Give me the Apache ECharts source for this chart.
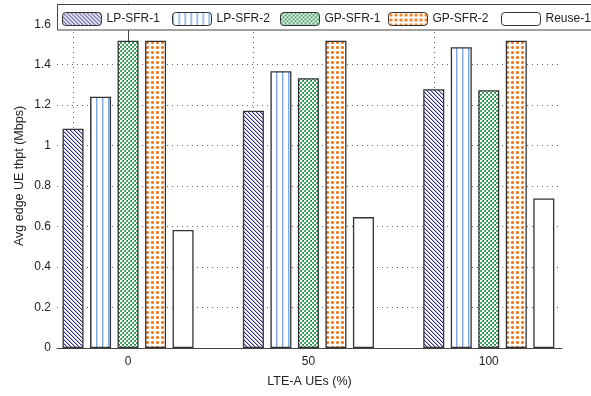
<!DOCTYPE html>
<html>
<head>
<meta charset="utf-8">
<script src="https://cdn.jsdelivr.net/npm/echarts@6/dist/echarts.min.js"></script>
<style>
html,body{margin:0;padding:0;background:#fff;}
#chart{width:591px;height:396px;}
</style>
</head>
<body>
<div id="chart"></div>
<script>
// ---- data ----
const categories = [0, 50, 100];
const seriesNames = ['LP-SFR-1', 'LP-SFR-2', 'GP-SFR-1', 'GP-SFR-2', 'Reuse-1'];
const lpSfr1 = [1.084, 1.173, 1.279];
const lpSfr2 = [1.242, 1.368, 1.486];
const gpSfr1 = [1.519, 1.333, 1.274];
const gpSfr2 = [1.519, 1.519, 1.519];
const reuse1 = [0.583, 0.647, 0.739];
const xTickValues = [0, 50, 100];

// ---- patterns ----
function tile(w, h, fn) {
  const c = document.createElement('canvas');
  c.width = w; c.height = h;
  const ctx = c.getContext('2d');
  ctx.fillStyle = '#ffffff';
  ctx.fillRect(0, 0, w, h);
  for (let y = 0; y < h; y++) {
    for (let x = 0; x < w; x++) {
      const col = fn(x, y);
      if (col) { ctx.fillStyle = col; ctx.fillRect(x, y, 1, 1); }
    }
  }
  return { image: c, repeat: 'repeat' };
}
const patDiag = tile(4, 4, (x, y) => {
  if (x === y) return '#2b2b85';
  if (x === (y + 1) % 4) return '#b8b8e0';
  return null;
});
const patVert = tile(6, 1, (x) => {
  if (x === 0) return '#7fa9e0';
  if (x === 1) return '#c4d8f2';
  return null;
});
const patCheck = tile(4, 4, (x, y) => {
  const bx = x >> 1, by = y >> 1;
  if ((bx + by) % 2 === 0) return null;
  if (x % 2 === 1 && y % 2 === 0) return '#1c7f42';
  return '#4fae6e';
});
const patDots = tile(5, 5, (x, y) => {
  if ((x === 2 && y >= 1 && y <= 3) || (y === 2 && x >= 1 && x <= 3)) return '#f27a1e';
  if ((x === 1 || x === 3) && (y === 1 || y === 3)) return '#f6a96c';
  return null;
});
const fills = [patDiag, patVert, patCheck, patDots, '#ffffff'];
const values = [lpSfr1, lpSfr2, gpSfr1, gpSfr2, reuse1];
const legendLeft = [62, 172, 280, 388, 501];

const font = "'Liberation Sans', Arial, Helvetica, sans-serif";
const txt = '#222';

const series = seriesNames.map((name, i) => {
  const s = {
    name: name,
    type: 'bar',
    barWidth: 21,
    barGap: '31%',
    data: categories.map((c, j) => [c, values[i][j]]),
    itemStyle: { color: fills[i], borderColor: '#333', borderWidth: 1.3 },
    emphasis: { disabled: true },
    animation: false
  };
  if (i === 0) {
    s.markLine = {
      z: 1,
      silent: true,
      symbol: ['none', 'none'],
      label: { show: false },
      lineStyle: { type: [1, 4], color: '#666', width: 1 },
      data: xTickValues.map(v => ({ xAxis: v })),
      animation: false
    };
  }
  return s;
});

const legends = seriesNames.map((name, i) => ({
  data: [name],
  left: legendLeft[i],
  top: 12,
  padding: 0,
  itemWidth: 39,
  itemHeight: 13,
  z: 10,
  selectedMode: false,
  itemStyle: { borderColor: '#333', borderWidth: 1 },
  textStyle: { fontFamily: font, fontSize: 12, color: txt }
}));

const chart = echarts.init(document.getElementById('chart'), null, { renderer: 'canvas' });
chart.setOption({
  animation: false,
  backgroundColor: '#fff',
  grid: { left: 57, right: 29, top: 4, bottom: 48, containLabel: false },
  legend: legends,
  graphic: [{
    type: 'rect',
    z: 8,
    shape: { x: 57.5, y: 4.5, width: 540, height: 25.5 },
    style: { fill: '#fff', stroke: '#444', lineWidth: 1 }
  }],
  xAxis: {
    type: 'value',
    min: -19.7,
    max: 120.3,
    name: 'LTE-A UEs (%)',
    nameLocation: 'middle',
    nameGap: 27,
    nameTextStyle: { fontFamily: font, fontSize: 12.5, color: txt },
    axisLine: { show: true, lineStyle: { color: '#444', width: 1 } },
    axisTick: { show: false, customValues: xTickValues },
    axisLabel: { customValues: xTickValues, fontFamily: font, fontSize: 12, color: txt, margin: 8 },
    splitLine: { show: false }
  },
  yAxis: {
    type: 'value',
    min: 0,
    max: 1.7,
    interval: 0.2,
    name: 'Avg edge UE thpt (Mbps)',
    nameLocation: 'middle',
    nameGap: 31,
    nameMoveOverlap: false,
    nameTextStyle: { fontFamily: font, fontSize: 12.5, color: txt },
    axisLine: { show: true, lineStyle: { color: '#444', width: 1 } },
    axisTick: { show: true, inside: true, length: 4, lineStyle: { color: '#444' } },
    axisLabel: { fontFamily: font, fontSize: 12, color: txt, margin: 6, showMaxLabel: false },
    splitLine: { show: true, lineStyle: { type: [1, 4], color: '#666', width: 1 } }
  },
  series: series
});
</script>
</body>
</html>
